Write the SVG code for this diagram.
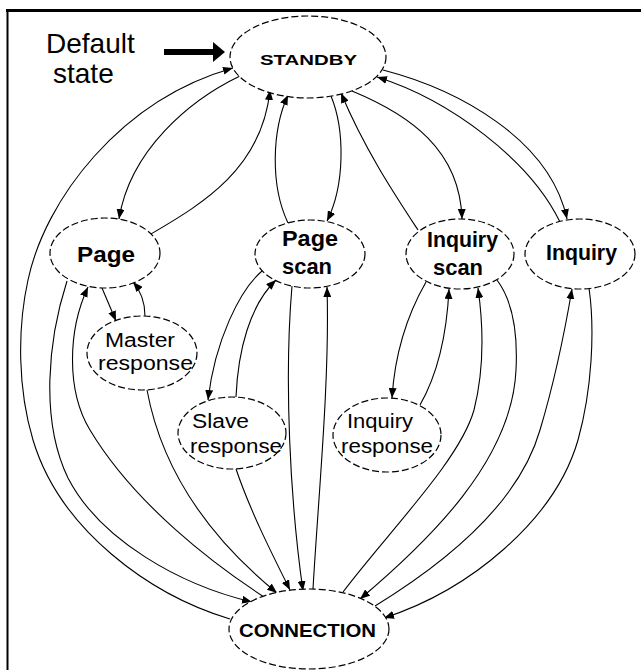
<svg xmlns="http://www.w3.org/2000/svg" width="641" height="670" viewBox="0 0 641 670">
<style>
.node{fill:#fff;stroke:#000;stroke-width:1.2;stroke-dasharray:7 3}
.edge{fill:none;stroke:#000;stroke-width:1.1}
.lb{font-family:"Liberation Sans",Arial,sans-serif;font-weight:bold;font-size:22px;fill:#000}
.lr{font-family:"Liberation Sans",Arial,sans-serif;font-size:20px;fill:#000}
.cap{font-family:"Liberation Sans",Arial,sans-serif;font-weight:bold;fill:#000}
</style>
<defs>
<marker id="ah" markerUnits="userSpaceOnUse" markerWidth="11" markerHeight="8" refX="10" refY="4" orient="auto">
<path d="M0,0 L10,4 L0,8 Z" fill="#000"/>
</marker>
</defs>
<rect width="641" height="670" fill="#fff"/>
<g id="frame" stroke="#000" fill="none">
<line x1="6" y1="10.5" x2="641" y2="10.5" stroke-width="3"/>
<line x1="7.5" y1="9" x2="7.5" y2="670" stroke-width="2"/>
</g>
<g id="default-state">
<text x="46" y="53" font-family="Liberation Sans, Arial, sans-serif" font-size="28">Default</text>
<text x="53" y="83" font-family="Liberation Sans, Arial, sans-serif" font-size="28">state</text>
<path d="M164,49 L213,49 L213,42 L225,52 L213,62 L213,55 L164,55 Z" fill="#000"/>
</g>
<g id="connectors" class="edges">
<path class="edge" marker-end="url(#ah)" d="M 230,619 C 150,595 60,530 33,440 C 18,390 17,330 28,280 C 45,200 120,100 233,68"/>
<path class="edge" marker-end="url(#ah)" d="M 240,76 C 190,100 130,150 119,219"/>
<path class="edge" marker-end="url(#ah)" d="M 151,234 C 200,205 262,170 270,90"/>
<path class="edge" marker-end="url(#ah)" d="M 331,96 C 345,130 345,185 327,221"/>
<path class="edge" marker-end="url(#ah)" d="M 288,223 C 270,185 272,130 288,95"/>
<path class="edge" marker-end="url(#ah)" d="M 418,230 C 395,195 365,150 341,93"/>
<path class="edge" marker-end="url(#ah)" d="M 352,91 C 410,115 460,150 462,219"/>
<path class="edge" marker-end="url(#ah)" d="M 560,222 C 530,160 450,100 377,77"/>
<path class="edge" marker-end="url(#ah)" d="M 383,70 C 460,90 550,140 567,219"/>
<path class="edge" marker-end="url(#ah)" d="M 102,288 L 116,321"/>
<path class="edge" marker-end="url(#ah)" d="M 145,316 C 145,300 140,290 133,282"/>
<path class="edge" marker-end="url(#ah)" d="M 67,281 C 48,340 40,420 68,478 C 100,540 180,585 252,602"/>
<path class="edge" marker-end="url(#ah)" d="M 264,597 C 215,565 135,505 90,430 C 66,390 68,330 88,287"/>
<path class="edge" marker-end="url(#ah)" d="M 147,390 C 160,460 200,530 277,593"/>
<path class="edge" marker-end="url(#ah)" d="M 236,469 C 250,510 270,550 290,590"/>
<path class="edge" marker-end="url(#ah)" d="M 292,286 C 284,380 290,500 303,591"/>
<path class="edge" marker-end="url(#ah)" d="M 313,589 C 318,500 330,380 327,287"/>
<path class="edge" marker-end="url(#ah)" d="M 262,271 C 240,290 215,340 208,400"/>
<path class="edge" marker-end="url(#ah)" d="M 236,397 C 238,350 250,305 276,280"/>
<path class="edge" marker-end="url(#ah)" d="M 426,282 C 410,310 395,350 392,398"/>
<path class="edge" marker-end="url(#ah)" d="M 420,405 C 440,370 447,330 449,289"/>
<path class="edge" marker-end="url(#ah)" d="M 343,592 C 390,530 460,460 474,410 C 484,370 484,330 478,288"/>
<path class="edge" marker-end="url(#ah)" d="M 497,280 C 512,300 518,330 516,370 C 512,460 430,540 360,599"/>
<path class="edge" marker-end="url(#ah)" d="M 375,606 C 450,560 520,500 540,430 C 555,380 565,330 572,289"/>
<path class="edge" marker-end="url(#ah)" d="M 589,288 C 595,330 592,390 578,440 C 555,520 470,590 384,618"/>
</g>
<g id="standby">
<ellipse class="node" cx="308" cy="57" rx="78" ry="41" fill="none"/>
<text class="cap" x="260" y="65" font-size="15" textLength="97" lengthAdjust="spacingAndGlyphs">STANDBY</text>
</g>
<g id="page">
<ellipse class="node" cx="105" cy="253" rx="55" ry="35" fill="none"/>
<text class="lb" x="77" y="262" textLength="58" lengthAdjust="spacingAndGlyphs">Page</text>
</g>
<g id="page-scan">
<ellipse class="node" cx="310" cy="254" rx="55" ry="34" fill="none"/>
<text class="lb" x="282" y="246" textLength="56" lengthAdjust="spacingAndGlyphs">Page</text>
<text class="lb" x="282" y="274" textLength="50" lengthAdjust="spacingAndGlyphs">scan</text>
</g>
<g id="inquiry-scan">
<ellipse class="node" cx="460" cy="254" rx="54" ry="35" fill="none"/>
<text class="lb" x="427" y="247" textLength="71" lengthAdjust="spacingAndGlyphs">Inquiry</text>
<text class="lb" x="433" y="275" textLength="50" lengthAdjust="spacingAndGlyphs">scan</text>
</g>
<g id="inquiry">
<ellipse class="node" cx="580" cy="254" rx="55" ry="35" fill="none"/>
<text class="lb" x="546" y="260" textLength="71" lengthAdjust="spacingAndGlyphs">Inquiry</text>
</g>
<g id="master-response">
<ellipse class="node" cx="142" cy="353" rx="55" ry="37" fill="none"/>
<text class="lr" x="105" y="347" textLength="70" lengthAdjust="spacingAndGlyphs">Master</text>
<text class="lr" x="98" y="370" textLength="95" lengthAdjust="spacingAndGlyphs">response</text>
</g>
<g id="slave-response">
<ellipse class="node" cx="232" cy="433" rx="54" ry="36" fill="none"/>
<text class="lr" x="192" y="428" textLength="57" lengthAdjust="spacingAndGlyphs">Slave</text>
<text class="lr" x="190" y="453" textLength="92" lengthAdjust="spacingAndGlyphs">response</text>
</g>
<g id="inquiry-response">
<ellipse class="node" cx="387" cy="435" rx="54" ry="37" fill="none"/>
<text class="lr" x="347" y="428" textLength="66" lengthAdjust="spacingAndGlyphs">Inquiry</text>
<text class="lr" x="341" y="453" textLength="92" lengthAdjust="spacingAndGlyphs">response</text>
</g>
<g id="connection">
<ellipse class="node" cx="309" cy="629" rx="80" ry="40" fill="none"/>
<text class="cap" x="239" y="637" font-size="18" textLength="137" lengthAdjust="spacingAndGlyphs">CONNECTION</text>
</g>
</svg>
